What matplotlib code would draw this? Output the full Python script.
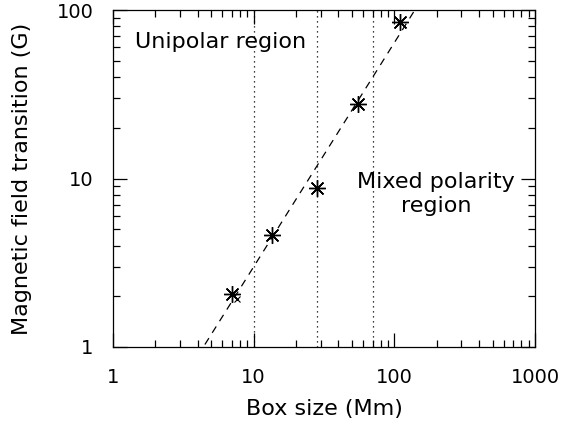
import numpy as np
import matplotlib.pyplot as plt
from matplotlib.ticker import LogLocator, FixedFormatter, FixedLocator

# box size (Mm) and transition field (G)
box_size = [7.0, 13.6, 28.0, 55.4, 110.0]
b_trans = [2.05, 4.6, 8.8, 27.5, 85.0]

# power law fit: log10(B) = a + b*log10(L)
fit_a = -0.854
fit_b = 1.33

# region boundaries
vlines = [10, 28, 70]

plt.rcParams['font.family'] = ['DejaVu Sans']

fig = plt.figure(figsize=(5.84, 4.25), dpi=100)
ax = fig.add_axes([113/584, 1-347/425, 422/584, 337/425])

for v in vlines:
    ax.axvline(v, color='k', ls=(0, (1, 3)), lw=0.9)

xf = np.logspace(0, 3, 200)
ax.plot(xf, 10**(fit_a + fit_b*np.log10(xf)), 'k', ls=(0, (6, 5)), lw=0.9)

ax.plot(box_size, b_trans, ls='none', marker=(8, 2, 0), ms=12,
        mec='k', mew=1.0, color='k')
ax.plot([7.6], [1.93], ls='none', marker='x', ms=5, mec='k', mew=0.8)

ax.set_xscale('log')
ax.set_yscale('log')
ax.set_xlim(1, 1000)
ax.set_ylim(1, 100)

ax.xaxis.set_major_locator(FixedLocator([1, 10, 100, 1000]))
ax.xaxis.set_major_formatter(FixedFormatter(['1', '10', '100', '1000']))
ax.yaxis.set_major_locator(FixedLocator([1, 10, 100]))
ax.yaxis.set_major_formatter(FixedFormatter(['1', '10', '100']))
ax.xaxis.set_minor_locator(LogLocator(base=10, subs=np.arange(2, 10)))
ax.yaxis.set_minor_locator(LogLocator(base=10, subs=np.arange(2, 10)))

ax.tick_params(which='both', direction='in', top=True, right=True,
               width=0.9, labelsize=14)
ax.tick_params(axis='x', pad=15)
ax.tick_params(axis='y', pad=14)
ax.tick_params(which='major', length=10)
ax.tick_params(which='minor', length=5)
for s in ax.spines.values():
    s.set_linewidth(0.9)

ax.set_xlabel('Box size (Mm)', fontsize=16, labelpad=9)
ax.set_ylabel('Magnetic field transition (G)', fontsize=16, labelpad=18)

ax.text(135/584, 1-42/425, 'Unipolar region', transform=fig.transFigure,
        fontsize=16, va='center', ha='left')
ax.text(436/584, 1-194/425, 'Mixed polarity\nregion', transform=fig.transFigure,
        fontsize=16, va='center', ha='center', linespacing=1.3)

fig.savefig('out.png', dpi=100)
